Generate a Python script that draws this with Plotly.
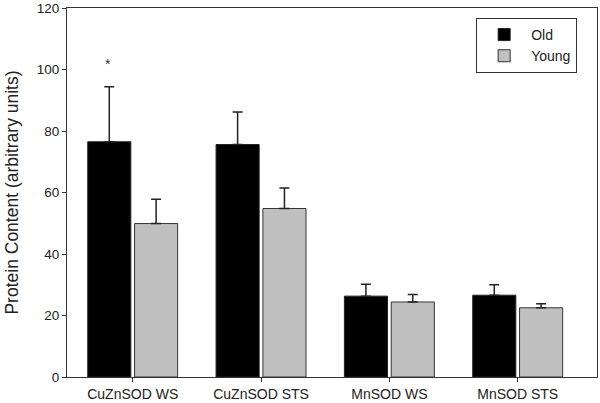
import plotly.graph_objects as go

categories = ["CuZnSOD WS", "CuZnSOD STS", "MnSOD WS", "MnSOD STS"]
old_values = [76.5, 75.6, 26.3, 26.6]
old_errors = [17.9, 10.6, 3.9, 3.4]
young_values = [49.9, 54.8, 24.4, 22.5]
young_errors = [7.9, 6.7, 2.4, 1.3]
star_labels = ["*", "", "", ""]
star_y = [101.8, None, None, None]

font = "Arial, Liberation Sans, sans-serif"

fig = go.Figure()
fig.add_trace(go.Bar(
    name="Old", x=categories, y=old_values,
    marker=dict(color="#000000", line=dict(color="#222222", width=1)),
    error_y=dict(type="data", array=old_errors, arrayminus=[0]*4, symmetric=False,
                 color="#222222", thickness=1.5, width=5),
))
fig.add_trace(go.Bar(
    name="Young", x=categories, y=young_values,
    marker=dict(color="#c0c0c0", line=dict(color="#333333", width=1)),
    error_y=dict(type="data", array=young_errors, arrayminus=[0]*4, symmetric=False,
                 color="#222222", thickness=1.5, width=5),
))

for i, (lab, yy) in enumerate(zip(star_labels, star_y)):
    if lab:
        fig.add_annotation(x=i - 0.195, y=yy, xref="x", yref="y", text=lab,
                           showarrow=False, font=dict(family=font, size=14, color="#333333"))

fig.update_layout(
    width=600, height=403,
    margin=dict(l=67, r=3, t=8, b=26, autoexpand=False),
    paper_bgcolor="white", plot_bgcolor="white",
    barmode="group", bargap=0.27, bargroupgap=0.08,
    font=dict(family=font, size=13, color="#222222"),
    showlegend=True,
    legend=dict(x=0.772, y=0.973, xanchor="left", yanchor="top",
                bordercolor="#333333", borderwidth=1, bgcolor="white",
                font=dict(family=font, size=14), itemwidth=44,
                tracegroupgap=0),
)
fig.update_xaxes(range=[-0.512, 3.618], showline=True, linecolor="#333333", linewidth=1,
                 mirror=True, ticks="outside", ticklen=4, tickcolor="#333333", automargin=False,
                 showgrid=False, tickfont=dict(family=font, size=14))
fig.update_yaxes(range=[0, 120], tickvals=[0, 20, 40, 60, 80, 100, 120],
                 showline=True, linecolor="#333333", linewidth=1, mirror=True, automargin=False,
                 ticks="outside", ticklen=4, tickcolor="#333333", showgrid=False, zeroline=False,
                 ticklabeloverflow="allow",
                 title=dict(text="Protein Content (arbitrary units)", font=dict(family=font, size=17.5), standoff=13),
                 tickfont=dict(family=font, size=13.5))

fig.write_html("out.html", config={"displayModeBar": False},
               post_script="document.body.style.margin='0';document.body.style.overflow='hidden';")
